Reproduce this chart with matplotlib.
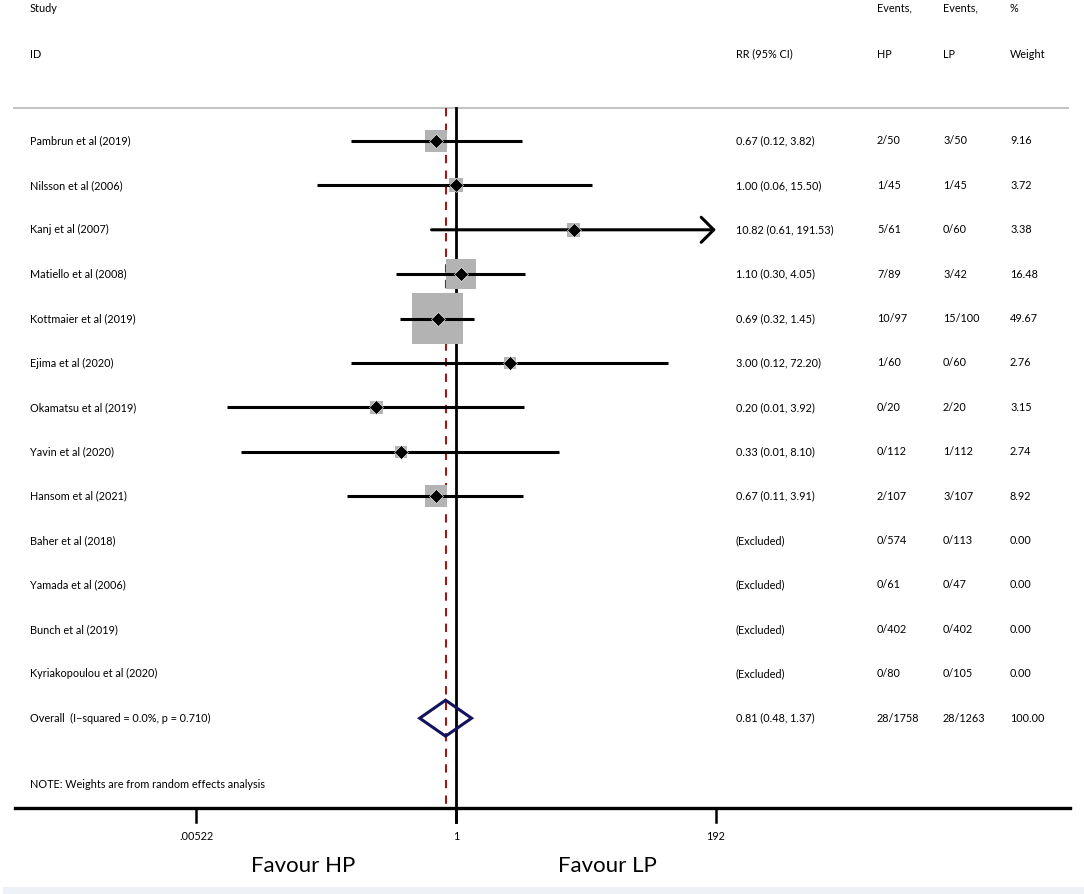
import numpy as np
import matplotlib
matplotlib.use("Agg")
import matplotlib.pyplot as plt
from matplotlib.transforms import blended_transform_factory
from matplotlib.patches import Polygon

plt.rcParams['font.family'] = ['Lato', 'DejaVu Sans']

studies = ["Pambrun et al (2019)", "Nilsson et al (2006)", "Kanj et al (2007)",
           "Matiello et al (2008)", "Kottmaier et al (2019)", "Ejima et al (2020)",
           "Okamatsu et al (2019)", "Yavin et al (2020)", "Hansom et al (2021)",
           "Baher et al (2018)", "Yamada et al (2006)", "Bunch et al (2019)",
           "Kyriakopoulou et al (2020)"]
rr = [0.67, 1.00, 10.82, 1.10, 0.69, 3.00, 0.20, 0.33, 0.67]
lo = [0.12, 0.06, 0.61, 0.30, 0.32, 0.12, 0.0097, 0.013, 0.11]
hi = [3.82, 15.50, 191.53, 4.05, 1.45, 72.20, 3.92, 8.10, 3.91]
events_hp = ["2/50", "1/45", "5/61", "7/89", "10/97", "1/60", "0/20", "0/112",
             "2/107", "0/574", "0/61", "0/402", "0/80"]
events_lp = ["3/50", "1/45", "0/60", "3/42", "15/100", "0/60", "2/20", "1/112",
             "3/107", "0/113", "0/47", "0/402", "0/105"]
weights = [9.16, 3.72, 3.38, 16.48, 49.67, 2.76, 3.15, 2.74, 8.92,
           0.00, 0.00, 0.00, 0.00]

overall_label = "Overall  (I\u2212squared = 0.0%, p = 0.710)"
overall_rr, overall_lo, overall_hi = 0.81, 0.48, 1.37
overall_hp, overall_lp, overall_w = "28/1758", "28/1263", "100.00"

tick_vals = [0.00522, 1, 192]
tick_labels = [".00522", "1", "192"]

# layout in pixels of the 1084x894 picture
W, H = 1084, 894
row0, pitch = 141, 44.4
k = 260 / np.log(192)          # pixels per ln unit
x_one = 456


def prow(py):
    return (py - row0) / pitch


fig = plt.figure(figsize=(W / 100, H / 100), dpi=100)
ax = fig.add_axes([0, 0, 1, 1])
ax.set_xscale('log')
ax.set_xlim(np.exp(-x_one / k), np.exp((W - x_one) / k))
ax.set_ylim(prow(H), prow(0))
ax.axis('off')
tr = blended_transform_factory(ax.transAxes, ax.transData)

fs = 7.8
col_x = {'study': 30, 'rr': 736, 'hp': 877, 'lp': 943, 'w': 1010}


def colx(name):
    return col_x[name] / W


# headers
ax.text(colx('study'), prow(8), "Study", transform=tr, fontsize=fs, va='center')
ax.text(colx('study'), prow(54), "ID", transform=tr, fontsize=fs, va='center')
ax.text(colx('rr'), prow(54), "RR (95% CI)", transform=tr, fontsize=fs, va='center')
ax.text(colx('hp'), prow(8), "Events,", transform=tr, fontsize=fs, va='center')
ax.text(colx('hp'), prow(54), "HP", transform=tr, fontsize=fs, va='center')
ax.text(colx('lp'), prow(8), "Events,", transform=tr, fontsize=fs, va='center')
ax.text(colx('lp'), prow(54), "LP", transform=tr, fontsize=fs, va='center')
ax.text(colx('w'), prow(8), "%", transform=tr, fontsize=fs, va='center')
ax.text(colx('w'), prow(54), "Weight", transform=tr, fontsize=fs, va='center')

ax.axhline(prow(108), 14 / W, 1068 / W, color='#c4c4c4', lw=1.5)

y_top = prow(108)
y_axis = prow(808)
y_tick = prow(822)

# reference lines
ax.plot([1, 1], [y_top, y_tick], color='black', lw=2.0, zorder=2)
ax.plot([overall_rr, overall_rr], [y_top, y_axis], color='#9b1b1b', lw=1.5,
        ls=(0, (4, 3.5)), zorder=2)

# studies
for i, name in enumerate(studies):
    ax.text(colx('study'), i, name, transform=tr, fontsize=fs, va='center')
    ax.text(colx('hp'), i, events_hp[i], transform=tr, fontsize=fs, va='center')
    ax.text(colx('lp'), i, events_lp[i], transform=tr, fontsize=fs, va='center')
    ax.text(colx('w'), i, f"{weights[i]:.2f}", transform=tr, fontsize=fs, va='center')
    if i < len(rr):
        ax.text(colx('rr'), i, f"{rr[i]:.2f} ({lo[i]:.2f}, {hi[i]:.2f})",
                transform=tr, fontsize=fs, va='center')
        ax.scatter([rr[i]], [i], s=27.6 * weights[i], marker='s',
                   color='#b3b3b3', edgecolors='none', zorder=3)
        if hi[i] >= 190:
            ax.annotate("", xy=(hi[i], i), xytext=(lo[i], i),
                        arrowprops=dict(arrowstyle='->,head_length=0.45,head_width=0.45',
                                        color='black', lw=2.2, mutation_scale=20,
                                        shrinkA=0, shrinkB=0), zorder=4)
        else:
            ax.plot([lo[i], hi[i]], [i, i], color='black', lw=2.2, zorder=4,
                    solid_capstyle='butt')
        ax.plot([rr[i]], [i], marker='D', color='black', ms=7.5, zorder=5,
                markeredgecolor='white', markeredgewidth=0.4)
    else:
        ax.text(colx('rr'), i, "(Excluded)", transform=tr, fontsize=fs, va='center')

# overall
yo = len(studies)
h = 18 / pitch
ax.add_patch(Polygon([(overall_lo, yo), (overall_rr, yo - h), (overall_hi, yo),
                      (overall_rr, yo + h)], closed=True, facecolor='none',
                     edgecolor='#14145e', lw=2.2, zorder=5))
ax.text(colx('study'), yo, overall_label, transform=tr, fontsize=fs, va='center')
ax.text(colx('rr'), yo, f"{overall_rr:.2f} ({overall_lo:.2f}, {overall_hi:.2f})",
        transform=tr, fontsize=fs, va='center')
ax.text(colx('hp'), yo, overall_hp, transform=tr, fontsize=fs, va='center')
ax.text(colx('lp'), yo, overall_lp, transform=tr, fontsize=fs, va='center')
ax.text(colx('w'), yo, overall_w, transform=tr, fontsize=fs, va='center')

ax.text(colx('study'), prow(785), "NOTE: Weights are from random effects analysis",
        transform=tr, fontsize=fs, va='center')

# bottom axis
ax.axhline(y_axis, 15 / W, 1070 / W, color='black', lw=2.4)
for v, lab in zip(tick_vals, tick_labels):
    ax.plot([v, v], [y_axis, y_tick], color='black', lw=1.8)
    ax.text(v, prow(836), lab, fontsize=fs, ha='center', va='center')

ax.text(303 / W, prow(866), "Favour HP", transform=tr, fontsize=16,
        ha='center', va='center')
ax.text(607 / W, prow(866), "Favour LP", transform=tr, fontsize=16,
        ha='center', va='center')

ax.axhspan(prow(H), prow(887), xmin=3 / W, xmax=1, color='#eef1f5', lw=0)

fig.savefig("out.png", dpi=100)
